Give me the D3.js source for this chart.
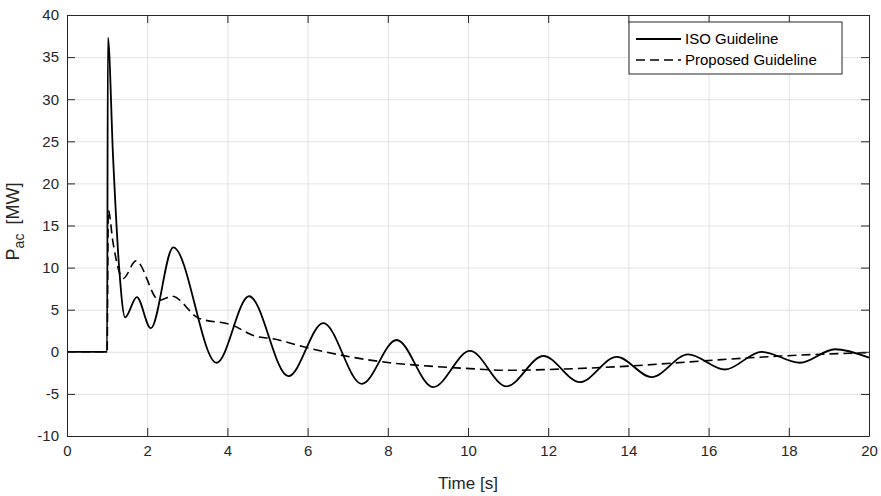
<!DOCTYPE html>
<html>
<head>
<meta charset="utf-8">
<script src="https://cdn.jsdelivr.net/npm/d3@7"></script>
<style>
  body { margin: 0; background: #fff; }
  svg { display: block; font-family: "Liberation Sans", Arial, sans-serif; }
  .grid line { stroke: #e3e3e3; stroke-width: 1; }
  .grid path { display: none; }
  .axis path, .axis line { stroke: #262626; }
  .axis text { fill: #262626; font-size: 15px; }
</style>
</head>
<body>
<svg id="chart" width="881" height="496"></svg>
<script>
// ISO guideline (solid) - time [s], power [MW]
var isoT = [0, 1, 1.02, 1.15, 1.30, 1.45, 1.74, 2.09, 2.65, 3.73, 4.54, 5.52, 6.39, 7.35, 8.22, 9.13, 10.05, 10.96, 11.88, 12.79, 13.71, 14.58, 15.49, 16.41, 17.32, 18.28, 19.15, 20];
var isoP = [0, 0, 37.3, 23.0, 10.0, 4.1, 6.5, 2.8, 12.4, -1.3, 6.6, -2.9, 3.4, -3.8, 1.4, -4.2, 0.1, -4.1, -0.5, -3.6, -0.6, -3.0, -0.3, -2.1, 0.0, -1.3, 0.3, -0.7];

// Proposed guideline (dashed)
var propT = [0, 1, 1.03, 1.15, 1.40, 1.72, 2.30, 2.62, 3.28, 4.10, 4.73, 5.06, 6.06, 7.06, 8.05, 9.05, 10.05, 11.0, 12.0, 14.0, 16.1, 17.8, 20];
var propP = [0, 0, 16.8, 12.9, 8.7, 10.8, 6.1, 6.6, 4.0, 3.2, 1.8, 1.6, 0.4, -0.6, -1.3, -1.7, -2.0, -2.2, -2.1, -1.7, -1.0, -0.5, -0.1];

var xTicks = [0, 2, 4, 6, 8, 10, 12, 14, 16, 18, 20];
var yTicks = [-10, -5, 0, 5, 10, 15, 20, 25, 30, 35, 40];
var seriesNames = ["ISO Guideline", "Proposed Guideline"];

(function() {
    var svg = d3.select("#chart");
    var left = 67, top = 15, right = 869, bottom = 436;
    var width = right - left, height = bottom - top;

    var x = d3.scaleLinear().domain([0, 20]).range([0, width]);
    var y = d3.scaleLinear().domain([-10, 40]).range([height, 0]);
    var plain = function(d) { return String(d); }; // hyphen minus like the original

    var g = svg.append("g").attr("transform", "translate(" + left + "," + top + ")");

    // grid
    g.append("g").attr("class", "grid")
        .attr("transform", "translate(0," + height + ")")
        .call(d3.axisBottom(x).tickValues(xTicks).tickSize(-height).tickFormat(""));
    g.append("g").attr("class", "grid")
        .call(d3.axisLeft(y).tickValues(yTicks).tickSize(-width).tickFormat(""));

    // curves
    var line = d3.line()
        .x(function(d) { return x(d[0]); })
        .y(function(d) { return y(d[1]); })
        .curve(d3.curveMonotoneX);

    var iso = isoT.map(function(t, i) { return [t, isoP[i]]; });
    var prop = propT.map(function(t, i) { return [t, propP[i]]; });

    g.append("path").datum(prop)
        .attr("d", line)
        .attr("fill", "none")
        .attr("stroke", "#000")
        .attr("stroke-width", 1.6)
        .attr("stroke-dasharray", "9,5");

    g.append("path").datum(iso)
        .attr("d", line)
        .attr("fill", "none")
        .attr("stroke", "#000")
        .attr("stroke-width", 1.8);

    // axes with inward ticks on all sides
    g.append("g").attr("class", "axis")
        .attr("transform", "translate(0," + height + ")")
        .call(d3.axisBottom(x).tickValues(xTicks).tickFormat(plain).tickSizeInner(-8).tickSizeOuter(0).tickPadding(9));
    g.append("g").attr("class", "axis")
        .call(d3.axisTop(x).tickValues(xTicks).tickSizeInner(-8).tickSizeOuter(0).tickFormat(""));
    g.append("g").attr("class", "axis")
        .call(d3.axisLeft(y).tickValues(yTicks).tickFormat(plain).tickSizeInner(-8).tickSizeOuter(0).tickPadding(8));
    g.append("g").attr("class", "axis")
        .attr("transform", "translate(" + width + ",0)")
        .call(d3.axisRight(y).tickValues(yTicks).tickSizeInner(-8).tickSizeOuter(0).tickFormat(""));

    // axis labels
    svg.append("text")
        .attr("x", left + width / 2)
        .attr("y", 489)
        .attr("text-anchor", "middle")
        .attr("fill", "#262626")
        .style("font-size", "17px")
        .text("Time [s]");

    var yl = svg.append("text")
        .attr("transform", "translate(19," + (top + height / 2 - 4) + ") rotate(-90)")
        .attr("text-anchor", "middle")
        .attr("fill", "#262626")
        .style("font-size", "18px");
    yl.append("tspan").text("P");
    yl.append("tspan").attr("dy", 5).style("font-size", "14px").text("ac");
    yl.append("tspan").attr("dy", -5).attr("dx", 9).text("[MW]");

    // legend
    var lg = svg.append("g").attr("transform", "translate(629,22)");
    lg.append("rect")
        .attr("width", 213).attr("height", 52)
        .attr("fill", "#fff")
        .attr("stroke", "#262626")
        .attr("stroke-width", 1);
    lg.selectAll("line.leg")
        .data(seriesNames)
        .enter()
        .append("line")
        .attr("x1", 7).attr("x2", 52)
        .attr("y1", function(d, i) { return 17 + i * 21; })
        .attr("y2", function(d, i) { return 17 + i * 21; })
        .attr("stroke", "#000")
        .attr("stroke-width", function(d, i) { return i === 0 ? 1.8 : 1.6; })
        .attr("stroke-dasharray", function(d, i) { return i === 0 ? null : "9,5"; });
    lg.selectAll("text.leg")
        .data(seriesNames)
        .enter()
        .append("text")
        .attr("x", 56)
        .attr("y", function(d, i) { return 22 + i * 21; })
        .attr("fill", "#000")
        .style("font-size", "15px")
        .text(function(d) { return d; });
})();
</script>
</body>
</html>
